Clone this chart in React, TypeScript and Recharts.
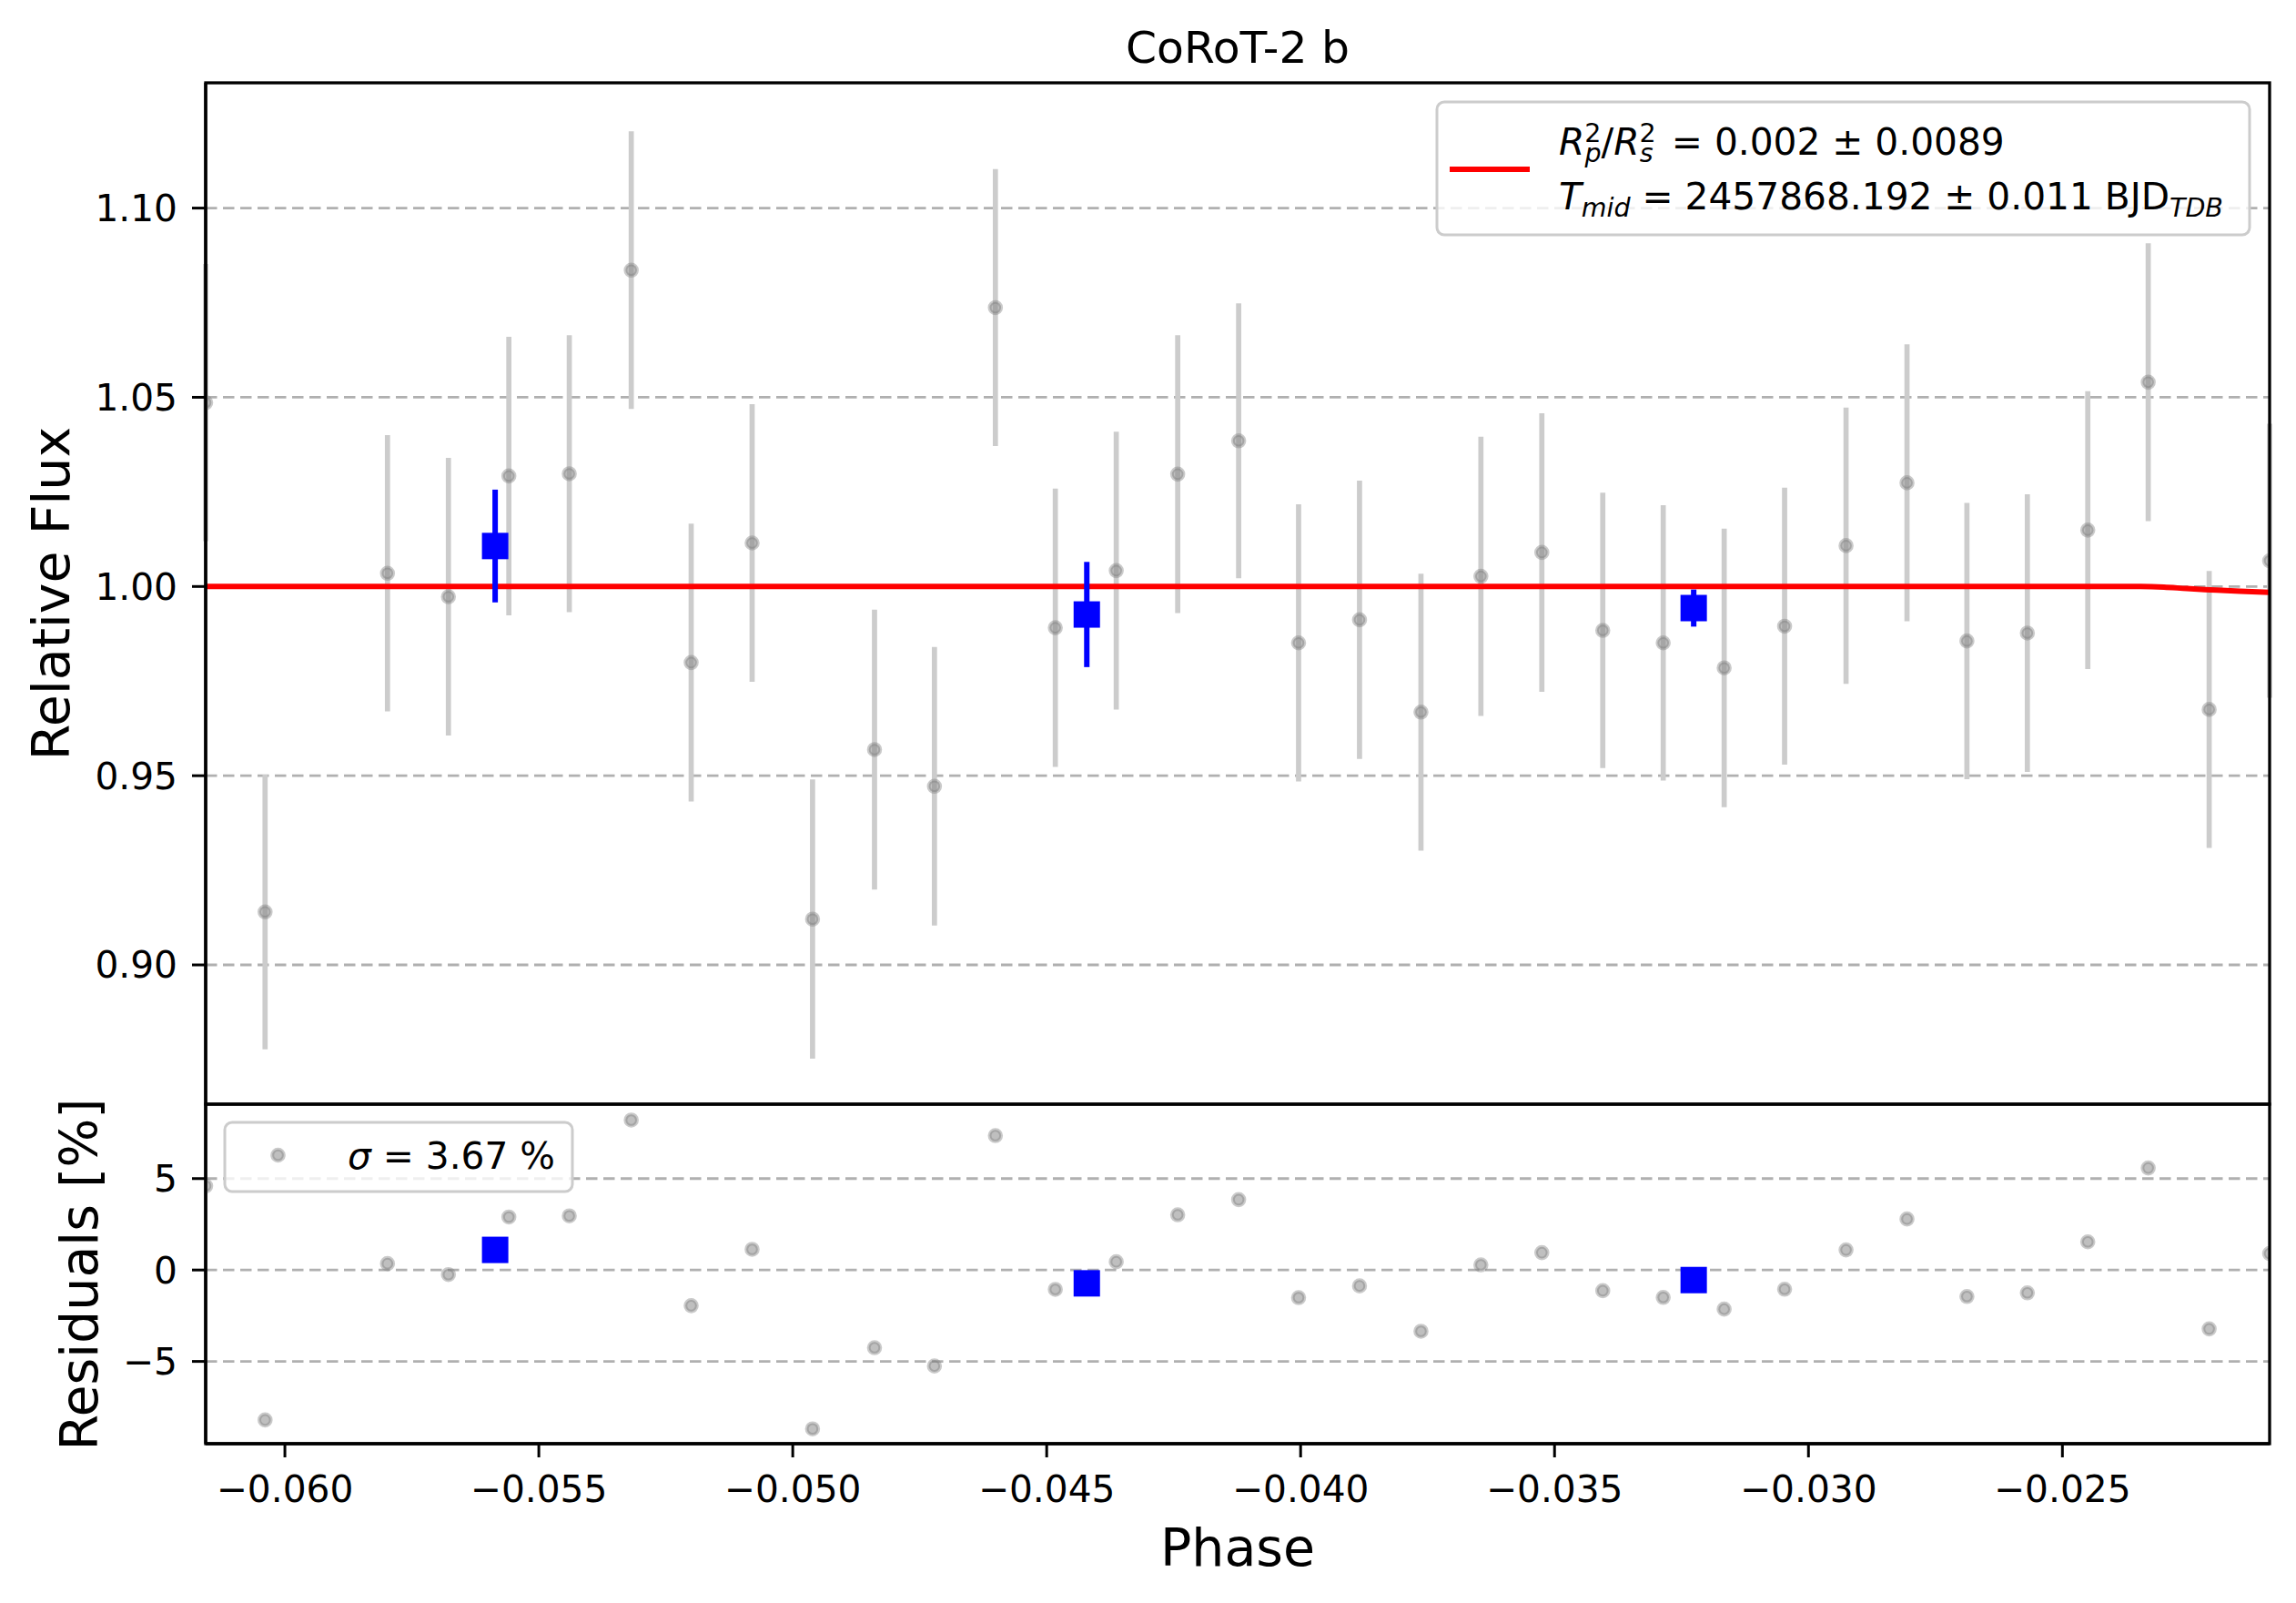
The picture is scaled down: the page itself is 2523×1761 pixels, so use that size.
import React from 'react';
import { ComposedChart, Scatter, Line, XAxis, YAxis, CartesianGrid, ErrorBar } from 'recharts';

// unbinned light curve
const phase = [
  -0.06156, -0.06039, -0.05798, -0.05678, -0.05559, -0.0544, -0.05318, -0.052, -0.0508, -0.04961,
  -0.04839, -0.04721, -0.04601, -0.04483, -0.04363, -0.04242, -0.04122, -0.04004, -0.03884, -0.03763,
  -0.03645, -0.03525, -0.03405, -0.03286, -0.03166, -0.03047, -0.02926, -0.02806, -0.02688, -0.02569,
  -0.0245, -0.02331, -0.02211, -0.02092,
];
const flux = [
  1.0486, 0.914, 1.0035, 0.9973, 1.0292, 1.0298, 1.0836, 0.9799, 1.0115, 0.9121,
  0.9569, 0.9472, 1.0737, 0.9891, 1.0042, 1.0297, 1.0385, 0.9851, 0.9912, 0.9668,
  1.0027, 1.009, 0.9884, 0.9851, 0.9785, 0.9895, 1.0108, 1.0274, 0.9856, 0.9877,
  1.0149, 1.054, 0.9675, 1.0068,
];
const fluxErr = [
  0.0366, 0.0363, 0.0365, 0.0367, 0.0368, 0.0366, 0.0367, 0.0367, 0.0367, 0.0369,
  0.037, 0.0368, 0.0366, 0.0368, 0.0367, 0.0367, 0.0363, 0.0366, 0.0368, 0.0366,
  0.0369, 0.0368, 0.0364, 0.0364, 0.0368, 0.0366, 0.0365, 0.0366, 0.0365, 0.0367,
  0.0367, 0.0367, 0.0366, 0.0362,
];
const residual = [
  4.6, -8.2, 0.35, -0.25, 2.9, 2.96, 8.2, -1.95, 1.13, -8.69,
  -4.25, -5.25, 7.35, -1.06, 0.45, 3.02, 3.85, -1.51, -0.87, -3.35,
  0.28, 0.95, -1.13, -1.5, -2.14, -1.05, 1.1, 2.79, -1.45, -1.25,
  1.54, 5.58, -3.22, 0.9,
];

// binned points
const binPhase = [-0.05586, -0.04421, -0.03226];
const binFlux = [1.0107, 0.9926, 0.9943];
const binErr = [0.0149, 0.0139, 0.0049];
const binResidual = [1.1, -0.73, -0.55];

// transit model
const modelPhase = [-0.06156, -0.02346, -0.023, -0.02255, -0.02209, -0.0215, -0.02092];
const modelFlux = [1.0, 1.0, 0.99985, 0.99945, 0.99913, 0.99875, 0.99847];

const xTicks = [-0.06, -0.055, -0.05, -0.045, -0.04, -0.035, -0.03, -0.025];
const fluxTicks = [0.9, 0.95, 1.0, 1.05, 1.1];
const residualTicks = [-5, 0, 5];

const W = 2523;
const H = 1761;
const LEFT = 226;
const RIGHT = 2494;
const TOP = 91;
const MID = 1213;
const BOTTOM = 1586;

const FONT = '"DejaVu Sans", sans-serif';
const TICK_FS = 40.7;

const xDomain: [number, number] = [Math.min(...phase), Math.max(...phase)];
const fluxDomain: [number, number] = [0.8632, 1.1331];
const residDomain: [number, number] = [-9.5, 9.07];

const fluxData = phase.map((p, i) => ({ phase: p, value: flux[i], err: fluxErr[i] }));
const binData = binPhase.map((p, i) => ({ phase: p, value: binFlux[i], err: binErr[i] }));
const modelData = modelPhase.map((p, i) => ({ phase: p, value: modelFlux[i] }));
const residData = phase.map((p, i) => ({ phase: p, value: residual[i] }));
const binResidData = binPhase.map((p, i) => ({ phase: p, value: binResidual[i] }));

const minus = (s: string) => s.replace('-', '\u2212');
const spine = { stroke: '#000', strokeWidth: 3.3 };
const tickLine = { stroke: '#000', strokeWidth: 3 };
const tickStyle = { fill: '#000', fontSize: TICK_FS, fontFamily: FONT };
const GRID_DASH = '12.5 6.5';

const GrayDot = (p: any) => (
  <circle cx={p.cx} cy={p.cy} r={6.3} fill="#808080" fillOpacity={0.5} stroke="#808080" strokeOpacity={0.42} strokeWidth={4} />
);
const BlueSquare = (p: any) => <rect x={p.cx - 14.5} y={p.cy - 14.5} width={29} height={29} fill="#0000ff" />;

export default function App() {
  return (
    <div style={{ position: 'absolute', left: 0, top: 0, width: W, height: H, background: '#fff', fontFamily: FONT }}>
      <div style={{ position: 'absolute', left: 0, top: 0 }}>
        <ComposedChart width={W} height={MID} margin={{ top: TOP, right: W - RIGHT, bottom: 0, left: 0 }}>
          <CartesianGrid vertical={false} syncWithTicks stroke="#b0b0b0" strokeWidth={2.8} strokeDasharray={GRID_DASH} />
          <XAxis type="number" dataKey="phase" domain={xDomain} allowDataOverflow ticks={xTicks} hide />
          <YAxis type="number" dataKey="value" domain={fluxDomain} allowDataOverflow ticks={fluxTicks} interval={0} width={LEFT} tickSize={15} tickMargin={16} tick={tickStyle} tickLine={tickLine} axisLine={spine} tickFormatter={(v: number) => v.toFixed(2)} />
          <Scatter data={fluxData} dataKey="value" shape={GrayDot} isAnimationActive={false}>
            <ErrorBar dataKey="err" direction="y" width={0} stroke="#cccccc" strokeWidth={5.7} />
          </Scatter>
          <Line data={modelData} dataKey="value" type="monotone" stroke="#ff0000" strokeWidth={6} dot={false} activeDot={false} isAnimationActive={false} />
          <Scatter data={binData} dataKey="value" shape={BlueSquare} isAnimationActive={false}>
            <ErrorBar dataKey="err" direction="y" width={0} stroke="#0000ff" strokeWidth={6} />
          </Scatter>
        </ComposedChart>
      </div>
      <div style={{ position: 'absolute', left: 0, top: MID }}>
        <ComposedChart width={W} height={H - MID} margin={{ top: 0, right: W - RIGHT, bottom: 0, left: 0 }}>
          <CartesianGrid vertical={false} syncWithTicks stroke="#b0b0b0" strokeWidth={2.8} strokeDasharray={GRID_DASH} />
          <XAxis type="number" dataKey="phase" domain={xDomain} allowDataOverflow ticks={xTicks} interval={0} height={H - BOTTOM} tickSize={15} tickMargin={20} tick={tickStyle} tickLine={tickLine} axisLine={spine} tickFormatter={(v: number) => minus(v.toFixed(3))} />
          <YAxis type="number" dataKey="value" domain={residDomain} allowDataOverflow ticks={residualTicks} interval={0} width={LEFT} tickSize={15} tickMargin={16} tick={tickStyle} tickLine={tickLine} axisLine={spine} tickFormatter={(v: number) => minus(String(v))} />
          <Scatter data={residData} dataKey="value" shape={GrayDot} isAnimationActive={false} />
          <Scatter data={binResidData} dataKey="value" shape={BlueSquare} isAnimationActive={false} />
        </ComposedChart>
      </div>
      <svg width={W} height={H} style={{ position: 'absolute', left: 0, top: 0, pointerEvents: 'none' }} fontFamily={FONT}>
        {/* axes frames */}
        <rect x={LEFT} y={TOP} width={RIGHT - LEFT} height={MID - TOP} fill="none" stroke="#000" strokeWidth={3.3} />
        <rect x={LEFT} y={MID} width={RIGHT - LEFT} height={BOTTOM - MID} fill="none" stroke="#000" strokeWidth={3.3} />

        <text x={(LEFT + RIGHT) / 2} y={68.5} textAnchor="middle" fontSize={48.8}>CoRoT-2 b</text>
        <text transform="translate(76,652) rotate(-90)" textAnchor="middle" fontSize={57}>Relative Flux</text>
        <text transform="translate(107,1400) rotate(-90)" textAnchor="middle" fontSize={57}>Residuals [%]</text>
        <text x={(LEFT + RIGHT) / 2} y={1720} textAnchor="middle" fontSize={57}>Phase</text>

        <rect x={1579} y={112} width={893} height={146} rx={8} fill="#fff" fillOpacity={0.8} stroke="#cccccc" strokeWidth={3} />
        <line x1={1593} x2={1681} y1={186} y2={186} stroke="#ff0000" strokeWidth={6} />
        <text x={1713} y={170} fontSize={TICK_FS}>
          <tspan fontStyle="italic">R</tspan>
          <tspan fontSize={28.5} dy={-14}>2</tspan>
          <tspan fontSize={28.5} fontStyle="italic" dx={-18} dy={22}>p</tspan>
          <tspan dy={-8}>/</tspan>
          <tspan fontStyle="italic">R</tspan>
          <tspan fontSize={28.5} dy={-14}>2</tspan>
          <tspan fontSize={28.5} fontStyle="italic" dx={-18} dy={22}>s</tspan>
          <tspan dy={-8}>{'\u2002= 0.002 \u00b1 0.0089'}</tspan>
        </text>
        <text x={1713} y={230} fontSize={TICK_FS}>
          <tspan fontStyle="italic">T</tspan>
          <tspan fontSize={28.5} fontStyle="italic" dy={8}>mid</tspan>
          <tspan dy={-8}>{' = 2457868.192 \u00b1 0.011 BJD'}</tspan>
          <tspan fontSize={28.5} fontStyle="italic" dy={8}>TDB</tspan>
        </text>

        <rect x={247} y={1233} width={382} height={76} rx={8} fill="#fff" fillOpacity={0.8} stroke="#cccccc" strokeWidth={3} />
        <circle cx={305.5} cy={1269} r={6.3} fill="#808080" fillOpacity={0.5} stroke="#808080" strokeOpacity={0.42} strokeWidth={4} />
        <text x={382} y={1284} fontSize={TICK_FS}>
          <tspan fontStyle="italic">{'\u03c3'}</tspan>
          <tspan>{' = 3.67 %'}</tspan>
        </text>
      </svg>
    </div>
  );
}
